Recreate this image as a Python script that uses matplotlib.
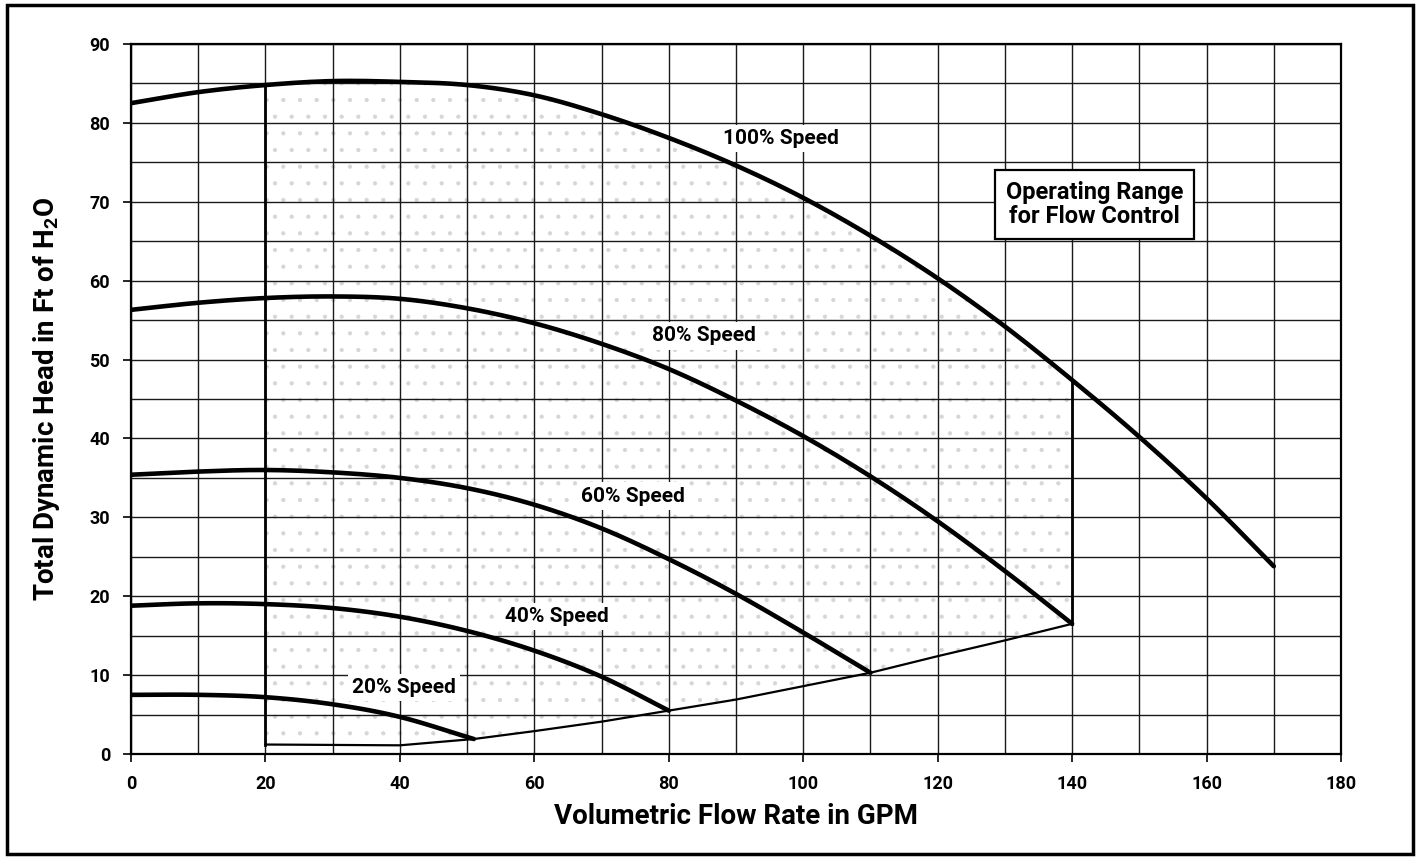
import matplotlib
matplotlib.use("Agg")
import matplotlib.pyplot as plt
from matplotlib.patches import Rectangle, Polygon
import numpy as np

plt.rcParams['font.family'] = ['Roboto', 'DejaVu Sans']
plt.rcParams['font.weight'] = 'bold'
plt.rcParams['mathtext.fontset'] = 'custom'
plt.rcParams['mathtext.rm'] = 'Roboto:bold'
plt.rcParams['mathtext.it'] = 'Roboto:bold'
plt.rcParams['mathtext.bf'] = 'Roboto:bold'
plt.rcParams['hatch.linewidth'] = 0.6

# Pump head curves (GPM vs ft of H2O) at each speed
speed100_x = [0, 10, 20, 30, 40, 50, 60, 70, 80, 90, 100, 110, 120, 130, 140, 150, 160, 170]
speed100_y = [82.5, 83.9, 84.8, 85.3, 85.2, 84.8, 83.5, 81.1, 78.1, 74.6, 70.5, 65.7, 60.3, 54.2, 47.4, 40.2, 32.4, 23.8]

speed80_x = [0, 10, 20, 30, 40, 50, 60, 70, 80, 90, 100, 110, 120, 130, 140]
speed80_y = [56.3, 57.2, 57.8, 58.0, 57.7, 56.5, 54.6, 52.0, 48.8, 44.8, 40.3, 35.2, 29.5, 23.2, 16.5]

speed60_x = [0, 10, 20, 30, 40, 50, 60, 70, 80, 90, 100, 110]
speed60_y = [35.4, 35.8, 36.0, 35.7, 35.0, 33.7, 31.6, 28.6, 24.7, 20.3, 15.4, 10.3]

speed40_x = [0, 10, 20, 30, 40, 50, 60, 70, 80]
speed40_y = [18.8, 19.1, 19.0, 18.5, 17.4, 15.6, 13.1, 9.8, 5.5]

speed20_x = [0, 10, 20, 30, 40, 51]
speed20_y = [7.5, 7.5, 7.2, 6.3, 4.7, 1.9]

# Lower boundary of the control range (system curve)
system_x = [20, 40, 51, 60, 70, 80, 90, 100, 110, 120, 130, 140]
system_y = [1.2, 1.1, 1.9, 2.9, 4.1, 5.5, 6.9, 8.6, 10.3, 12.4, 14.4, 16.5]

# Flow limits of the control range
range_min_flow = 20
range_max_flow = 140

speed_labels = ["100% Speed", "80% Speed", "60% Speed", "40% Speed", "20% Speed"]
label_x = [96.7, 85.3, 74.7, 63.3, 40.6]
label_y = [78.0, 53.0, 32.7, 17.4, 8.4]

x_ticks = [0, 20, 40, 60, 80, 100, 120, 140, 160, 180]
y_ticks = [0, 10, 20, 30, 40, 50, 60, 70, 80, 90]


def smooth(xs, ys, steps=12):
    """Catmull-Rom path through the given points, for a smooth stroke."""
    p = np.column_stack([xs, ys]).astype(float)
    if len(p) < 3:
        return p[:, 0], p[:, 1]
    ext = np.vstack([2 * p[0] - p[1], p, 2 * p[-1] - p[-2]])
    out = []
    t = np.linspace(0, 1, steps, endpoint=False)[:, None]
    for i in range(1, len(ext) - 2):
        p0, p1, p2, p3 = ext[i - 1], ext[i], ext[i + 1], ext[i + 2]
        seg = 0.5 * ((2 * p1) + (-p0 + p2) * t + (2 * p0 - 5 * p1 + 4 * p2 - p3) * t ** 2
                     + (-p0 + 3 * p1 - 3 * p2 + p3) * t ** 3)
        out.append(seg)
    out.append(p[-1][None, :])
    out = np.vstack(out)
    return out[:, 0], out[:, 1]


W, H = 1421, 861
fig = plt.figure(figsize=(W / 100, H / 100), dpi=100)
ax = fig.add_axes([131 / W, 1 - 754 / H, (1341 - 131) / W, (754 - 44) / H])

ax.set_xlim(0, 180)
ax.set_ylim(0, 90)
ax.set_xticks(x_ticks)
ax.set_yticks(y_ticks)
ax.set_xticks(np.arange(0, 181, 10), minor=True)
ax.set_yticks(np.arange(0, 91, 5), minor=True)
ax.set_axisbelow('line')
ax.grid(which='both', color='#1a1a1a', linewidth=1.0)
ax.tick_params(which='major', direction='out', length=6, width=1.2, labelsize=13, pad=9)
ax.tick_params(which='minor', length=0)
for lab in ax.get_xticklabels() + ax.get_yticklabels():
    lab.set_fontweight('bold')
for s in ax.spines.values():
    s.set_linewidth(1.6)
    s.set_color('black')

# Operating range region: 100% curve on top, system curve below
sx100, sy100 = smooth(speed100_x, speed100_y)
keep = (sx100 >= range_min_flow) & (sx100 <= range_max_flow)
top_pts = list(zip(sx100[keep], sy100[keep]))
bottom_pts = list(zip(system_x, system_y))[::-1]
region = Polygon(top_pts + bottom_pts, closed=True, facecolor='none',
                 edgecolor='#d6d6d6', hatch='.', linewidth=0, zorder=0.5)
ax.add_patch(region)

# Head curves
for xs, ys in [(speed100_x, speed100_y), (speed80_x, speed80_y), (speed60_x, speed60_y),
               (speed40_x, speed40_y), (speed20_x, speed20_y)]:
    cx, cy = smooth(xs, ys)
    ax.plot(cx, cy, color='black', linewidth=3.3, solid_capstyle='round',
            solid_joinstyle='round', zorder=4)

# System curve and flow limits
ax.plot(system_x, system_y, color='black', linewidth=1.6, zorder=3)
top_at_min = speed100_y[speed100_x.index(range_min_flow)]
top_at_max = speed100_y[speed100_x.index(range_max_flow)]
ax.plot([range_min_flow, range_min_flow], [system_y[0], top_at_min], color='black', linewidth=2.0, zorder=3)
ax.plot([range_max_flow, range_max_flow], [system_y[-1], top_at_max], color='black', linewidth=2.0, zorder=3)

for txt, lx, ly in zip(speed_labels, label_x, label_y):
    ax.text(lx, ly, txt, ha='center', va='center', fontsize=15, fontweight='bold', zorder=5,
            bbox=dict(facecolor='white', edgecolor='none', pad=3))

ax.text(143.35, 69.65, "Operating Range\nfor Flow Control", ha='center', va='center',
        fontsize=17, fontweight='bold', linespacing=1.1, zorder=5,
        bbox=dict(boxstyle='square,pad=0.45', facecolor='white', edgecolor='black', linewidth=1.6))

fig.text(736 / W, 1 - 817 / H, "Volumetric Flow Rate in GPM", ha='center', va='center',
         fontsize=20, fontweight='bold')
fig.text(47 / W, 1 - 399 / H, r"Total Dynamic Head in Ft of H$_2$O", ha='center', va='center',
         rotation=90, fontsize=20, fontweight='bold')

# Outer frame
fig.patches.append(Rectangle((7 / W, 1 - 854 / H), (1413 - 7) / W, (854 - 5) / H,
                             transform=fig.transFigure, fill=False, edgecolor='black', linewidth=2.5))

fig.savefig("out.png", dpi=100, facecolor='white')
